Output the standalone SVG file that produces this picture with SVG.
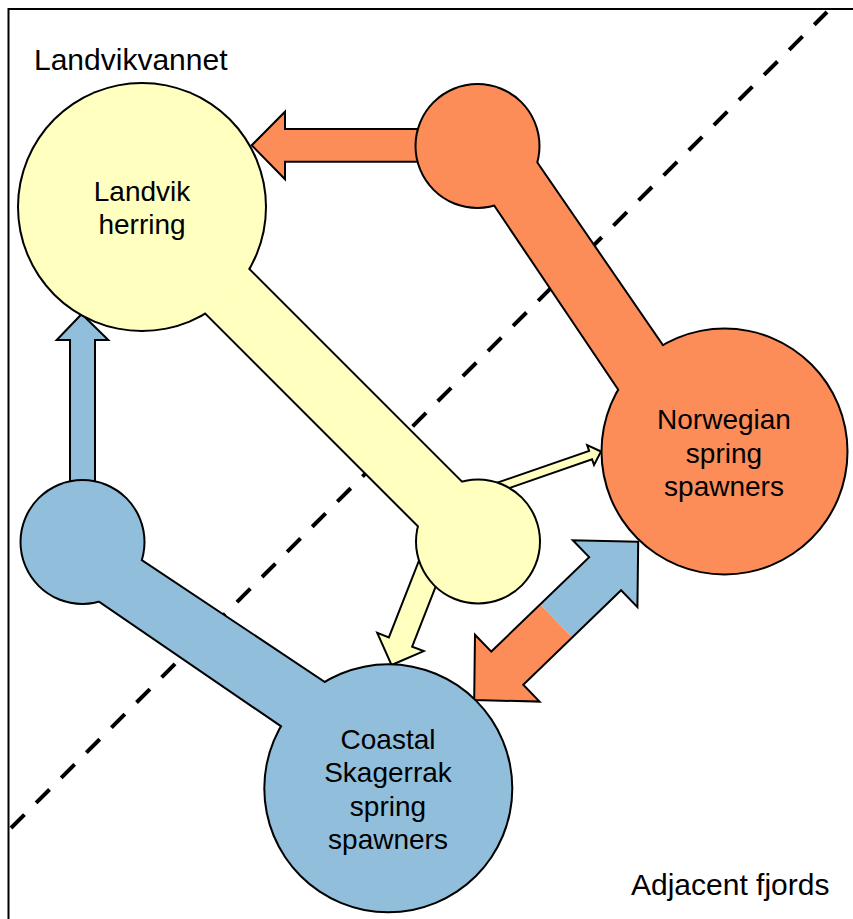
<svg xmlns="http://www.w3.org/2000/svg" width="853" height="919" viewBox="0 0 853 919">
<style>
  .ol { fill: #000; stroke: #000; stroke-width: 4; stroke-linejoin: miter; }
  .y { fill: #FFFFBF; }
  .o { fill: #FC8D59; }
  .b { fill: #91BFDB; }
  .arr { stroke: #000; stroke-width: 2; stroke-linejoin: miter; }
  .lbl { font-family: "Liberation Sans", Arial, sans-serif; font-size: 28px; fill: #000; text-anchor: middle; }
  .area { font-family: "Liberation Sans", Arial, sans-serif; font-size: 30px; fill: #000; }
</style>
<rect x="0" y="0" width="853" height="919" fill="#fff"/>
<rect x="8.5" y="9" width="900" height="950" fill="none" stroke="#000" stroke-width="2"/>
<line x1="11" y1="828" x2="827" y2="12" stroke="#000" stroke-width="4" stroke-dasharray="19 16.5"/>
<text class="area" x="34" y="70">Landvikvannet</text>
<text class="area" x="631" y="895">Adjacent fjords</text>

<g id="connectors">
  <path class="o arr" d="M251.7,145.3 L285,111.7 L285,129 L440,129 L440,161.7 L285,161.7 L285,179.3 Z"/>
  <path class="b arr" d="M81.7,314 L108.3,340 L95,340 L95,500 L70,500 L70,340 L56.7,340 Z"/>
  <path class="y arr" transform="translate(601,451.5) rotate(-19.1)" d="M0,0 L-11,-10.5 L-11,-4.5 L-120,-4.5 L-120,4.5 L-11,4.5 L-11,10.5 Z"/>
  <path class="y arr" transform="translate(391.5,665) rotate(111.4)" d="M0,0 L-24.7,-25 L-24.7,-12.5 L-120,-12.5 L-120,12.5 L-24.7,12.5 L-24.7,25 Z"/>
  <g transform="translate(556.2,620.9) rotate(-44)">
    <path class="b" d="M0,-23 L68,-23 L68,-46.5 L114,0 L68,46.5 L68,23 L0,23 Z"/>
    <path class="o" d="M0,-23 L-68,-23 L-68,-46.5 L-114,0 L-68,46.5 L-68,23 L0,23 Z"/>
    <path fill="none" class="arr" d="M114,0 L68,-46.5 L68,-23 L-68,-23 L-68,-46.5 L-114,0 L-68,46.5 L-68,23 L68,23 L68,46.5 Z"/>
  </g>
</g>

<g id="landvik">
  <polygon class="ol" points="200,221 470,491 440,547 160,267"/>
  <circle cx="142" cy="207" r="125"/>
  <circle cx="478" cy="541.5" r="63"/>
  <polygon class="y" points="200,221 470,491 440,547 160,267"/>
  <circle class="y" cx="142" cy="207" r="123"/>
  <circle class="y" cx="478" cy="541.5" r="61"/>
  <text class="lbl" x="142" y="201">Landvik</text>
  <text class="lbl" x="142" y="234">herring</text>
</g>

<g id="norwegian">
  <polygon class="ol" points="519.7,138.6 680,371.7 635.8,413.9 478.2,180.1"/>
  <circle cx="724.5" cy="451.5" r="124"/>
  <circle cx="477.5" cy="146" r="63"/>
  <polygon class="o" points="519.7,138.6 680,371.7 635.8,413.9 478.2,180.1"/>
  <circle class="o" cx="724.5" cy="451.5" r="122"/>
  <circle class="o" cx="477.5" cy="146" r="61"/>
  <text class="lbl" x="724" y="429.3">Norwegian</text>
  <text class="lbl" x="724" y="462.6">spring</text>
  <text class="lbl" x="724" y="495.9">spawners</text>
</g>

<g id="coastal">
  <polygon class="ol" points="115,543.4 350,700 308,743.6 73.5,583"/>
  <circle cx="388.3" cy="788.3" r="125"/>
  <circle cx="82.5" cy="542" r="63"/>
  <polygon class="b" points="115,543.4 350,700 308,743.6 73.5,583"/>
  <circle class="b" cx="388.3" cy="788.3" r="123"/>
  <circle class="b" cx="82.5" cy="542" r="61"/>
  <text class="lbl" x="388" y="749">Coastal</text>
  <text class="lbl" x="388" y="782.3">Skagerrak</text>
  <text class="lbl" x="388" y="815.7">spring</text>
  <text class="lbl" x="388" y="849">spawners</text>
</g>
</svg>
